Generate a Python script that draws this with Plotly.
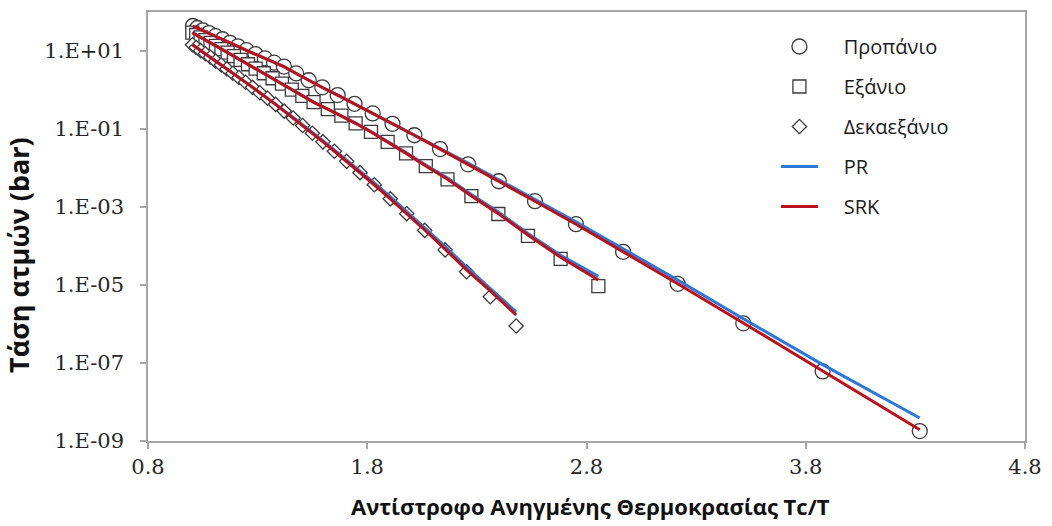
import plotly.graph_objects as go

# Tc/T values and vapour pressures (bar)
propane_x = [1.005, 1.025, 1.050, 1.078, 1.108, 1.140, 1.174, 1.210, 1.249, 1.290,
             1.333, 1.375, 1.420, 1.476, 1.533, 1.595, 1.665, 1.742, 1.825, 1.915,
             2.015, 2.132, 2.260, 2.400, 2.565, 2.752, 2.967, 3.216, 3.515, 3.877, 4.320]
propane_p = [43.7, 38.9, 33.9, 28.8, 24.0, 20.0, 16.2, 13.2, 10.5, 8.32,
             6.46, 5.01, 3.98, 2.66, 1.78, 1.17, 0.741, 0.442, 0.251, 0.136,
             0.0692, 0.0305, 0.0124, 4.57e-3, 1.41e-3, 3.63e-4, 7.08e-5, 1.07e-5, 1.04e-6, 6.10e-8, 1.80e-9]
propane_srk = [43.7, 38.7, 33.6, 28.6, 23.9, 19.8, 16.1, 13.1, 10.4, 8.28,
               6.43, 4.99, 3.96, 2.65, 1.77, 1.16, 0.737, 0.440, 0.250, 0.135,
               0.0690, 0.0304, 0.0124, 4.55e-3, 1.40e-3, 3.62e-4, 7.10e-5, 1.08e-5, 1.06e-6, 6.30e-8, 1.95e-9]
propane_pr = [43.7, 38.7, 33.6, 28.6, 23.9, 19.8, 16.1, 13.1, 10.4, 8.28,
              6.43, 4.99, 3.96, 2.65, 1.77, 1.16, 0.737, 0.440, 0.251, 0.137,
              0.0706, 0.0318, 0.0133, 4.98e-3, 1.57e-3, 4.15e-4, 8.45e-5, 1.33e-5, 1.36e-6, 9.10e-8, 3.90e-9]

hexane_x = [1.002, 1.020, 1.040, 1.062, 1.085, 1.110, 1.135, 1.163, 1.192, 1.222,
            1.256, 1.291, 1.328, 1.368, 1.411, 1.456, 1.504, 1.555, 1.620, 1.682,
            1.747, 1.817, 1.893, 1.977, 2.067, 2.166, 2.275, 2.398, 2.533, 2.682, 2.854]
hexane_p = [29.5, 25.7, 22.4, 19.1, 16.2, 13.5, 11.2, 9.12, 7.41, 5.89,
            4.57, 3.55, 2.69, 2.00, 1.45, 1.02, 0.708, 0.490, 0.324, 0.219,
            0.140, 0.0841, 0.0468, 0.0237, 0.0112, 5.13e-3, 1.91e-3, 6.61e-4, 1.82e-4, 4.68e-5, 9.33e-6]
hexane_srk = [29.5, 25.6, 22.3, 19.0, 16.1, 13.5, 11.2, 9.10, 7.40, 5.88,
              4.56, 3.54, 2.68, 2.00, 1.45, 1.02, 0.707, 0.489, 0.323, 0.219,
              0.140, 0.0841, 0.0468, 0.0237, 0.0112, 5.14e-3, 1.92e-3, 6.76e-4, 1.91e-4, 5.13e-5, 1.35e-5]
hexane_pr = [29.5, 25.6, 22.3, 19.0, 16.1, 13.5, 11.2, 9.10, 7.40, 5.88,
             4.56, 3.54, 2.68, 2.00, 1.45, 1.02, 0.708, 0.490, 0.325, 0.220,
             0.141, 0.0861, 0.0484, 0.0248, 0.0119, 5.50e-3, 2.09e-3, 7.41e-4, 2.09e-4, 5.75e-5, 1.66e-5]

hexadecane_x = [1.003, 1.020, 1.040, 1.062, 1.085, 1.109, 1.134, 1.160, 1.187, 1.215,
                1.245, 1.277, 1.310, 1.345, 1.382, 1.421, 1.462, 1.505, 1.550, 1.598,
                1.650, 1.706, 1.767, 1.832, 1.905, 1.980, 2.062, 2.155, 2.253, 2.361, 2.479]
hexadecane_p = [14.5, 12.3, 10.2, 8.51, 6.92, 5.50, 4.37, 3.47, 2.69, 2.09,
                1.58, 1.17, 0.851, 0.617, 0.427, 0.288, 0.191, 0.123, 0.0776, 0.0468,
                0.0269, 0.0148, 7.59e-3, 3.72e-3, 1.62e-3, 6.76e-4, 2.51e-4, 7.94e-5, 2.19e-5, 5.01e-6, 8.91e-7]
hexadecane_srk = [14.5, 12.3, 10.2, 8.50, 6.91, 5.49, 4.36, 3.46, 2.69, 2.09,
                  1.58, 1.17, 0.850, 0.616, 0.427, 0.288, 0.191, 0.123, 0.0776, 0.0468,
                  0.0269, 0.0148, 7.59e-3, 3.72e-3, 1.62e-3, 6.78e-4, 2.57e-4, 8.32e-5, 2.45e-5, 7.08e-6, 1.70e-6]
hexadecane_pr = [14.5, 12.3, 10.2, 8.50, 6.91, 5.49, 4.36, 3.46, 2.69, 2.09,
                 1.58, 1.17, 0.852, 0.619, 0.432, 0.295, 0.197, 0.129, 0.0822, 0.0501,
                 0.0292, 0.0162, 8.41e-3, 4.17e-3, 1.84e-3, 7.76e-4, 2.99e-4, 9.77e-5, 2.88e-5, 8.32e-6, 2.04e-6]

names = ["Προπάνιο", "Εξάνιο", "Δεκαεξάνιο"]
symbols = ["circle", "square", "diamond"]
sizes = [15, 13, 11]

x_ticks = [0.8, 1.8, 2.8, 3.8, 4.8]
y_ticks = [1e1, 1e-1, 1e-3, 1e-5, 1e-7, 1e-9]
y_tick_text = ["1.E+01", "1.E-01", "1.E-03", "1.E-05", "1.E-07", "1.E-09"]
x_title = "Αντίστροφο Ανηγμένης Θερμοκρασίας Tc/T"
y_title = "Τάση ατμών (bar)"

BLUE = "#2b78dc"
RED = "#bd1119"
AXIS = "#a6a6a6"
PAD = "\u00a0\u00a0\u00a0\u00a0"  # gap between legend symbol and label

fig = go.Figure()

for i, (xs, ys) in enumerate([(propane_x, propane_p), (hexane_x, hexane_p), (hexadecane_x, hexadecane_p)]):
    fig.add_trace(go.Scatter(
        x=xs, y=ys, mode="markers", name=PAD + names[i], legendgroup=names[i],
        marker=dict(symbol=symbols[i], size=sizes[i], color="white",
                    line=dict(color="#3a3a3a", width=1.3)),
    ))

def joined(a, b, c):
    return list(a) + [None] + list(b) + [None] + list(c)

fig.add_trace(go.Scatter(
    x=joined(propane_x, hexane_x, hexadecane_x),
    y=joined(propane_pr, hexane_pr, hexadecane_pr),
    mode="lines", name=PAD + "PR", legendgroup="PR",
    line=dict(color=BLUE, width=3), connectgaps=False,
))
fig.add_trace(go.Scatter(
    x=joined(propane_x, hexane_x, hexadecane_x),
    y=joined(propane_srk, hexane_srk, hexadecane_srk),
    mode="lines", name=PAD + "SRK", legendgroup="SRK",
    line=dict(color=RED, width=3), connectgaps=False,
))

fig.update_layout(
    width=1052, height=526,
    margin=dict(l=148, r=20, t=10, b=85),
    paper_bgcolor="white", plot_bgcolor="white",
    showlegend=True,
    legend=dict(
        x=0.716, y=0.965, xanchor="left", yanchor="top",
        bgcolor="rgba(255,255,255,0)", borderwidth=0,
        font=dict(family="Open Sans", size=20, color="#1a1a1a"),
        traceorder="grouped", tracegroupgap=11, itemwidth=37,
    ),
    xaxis=dict(
        range=[0.8, 4.8], tickvals=x_ticks, ticktext=[f"{v:.1f}" for v in x_ticks],
        showgrid=False, zeroline=False,
        showline=True, linecolor=AXIS, linewidth=1.5, mirror=True,
        ticks="outside", ticklen=6, tickcolor=AXIS, tickwidth=1.5,
        tickfont=dict(family="DejaVu Serif", size=21, color="#262626"),
    ),
    yaxis=dict(
        type="log", range=[-9, 2], tickvals=y_ticks, ticktext=y_tick_text,
        showgrid=False, zeroline=False,
        showline=True, linecolor=AXIS, linewidth=1.5, mirror=True,
        ticks="outside", ticklen=6, tickcolor=AXIS, tickwidth=1.5,
        tickfont=dict(family="DejaVu Serif", size=21, color="#262626"),
        ticklabelstandoff=12,
    ),
    annotations=[
        dict(text="<b>" + x_title + "</b>", xref="paper", yref="paper",
             x=0.504, y=-0.152, xanchor="center", yanchor="middle", showarrow=False,
             font=dict(family="Open Sans", size=22, color="#111111")),
        dict(text="<b>" + y_title + "</b>", xref="paper", yref="paper",
             x=-0.147, y=0.434, xanchor="center", yanchor="middle", showarrow=False,
             textangle=-90,
             font=dict(family="Open Sans", size=27, color="#111111")),
    ],
)

fig.write_html("out.html")
